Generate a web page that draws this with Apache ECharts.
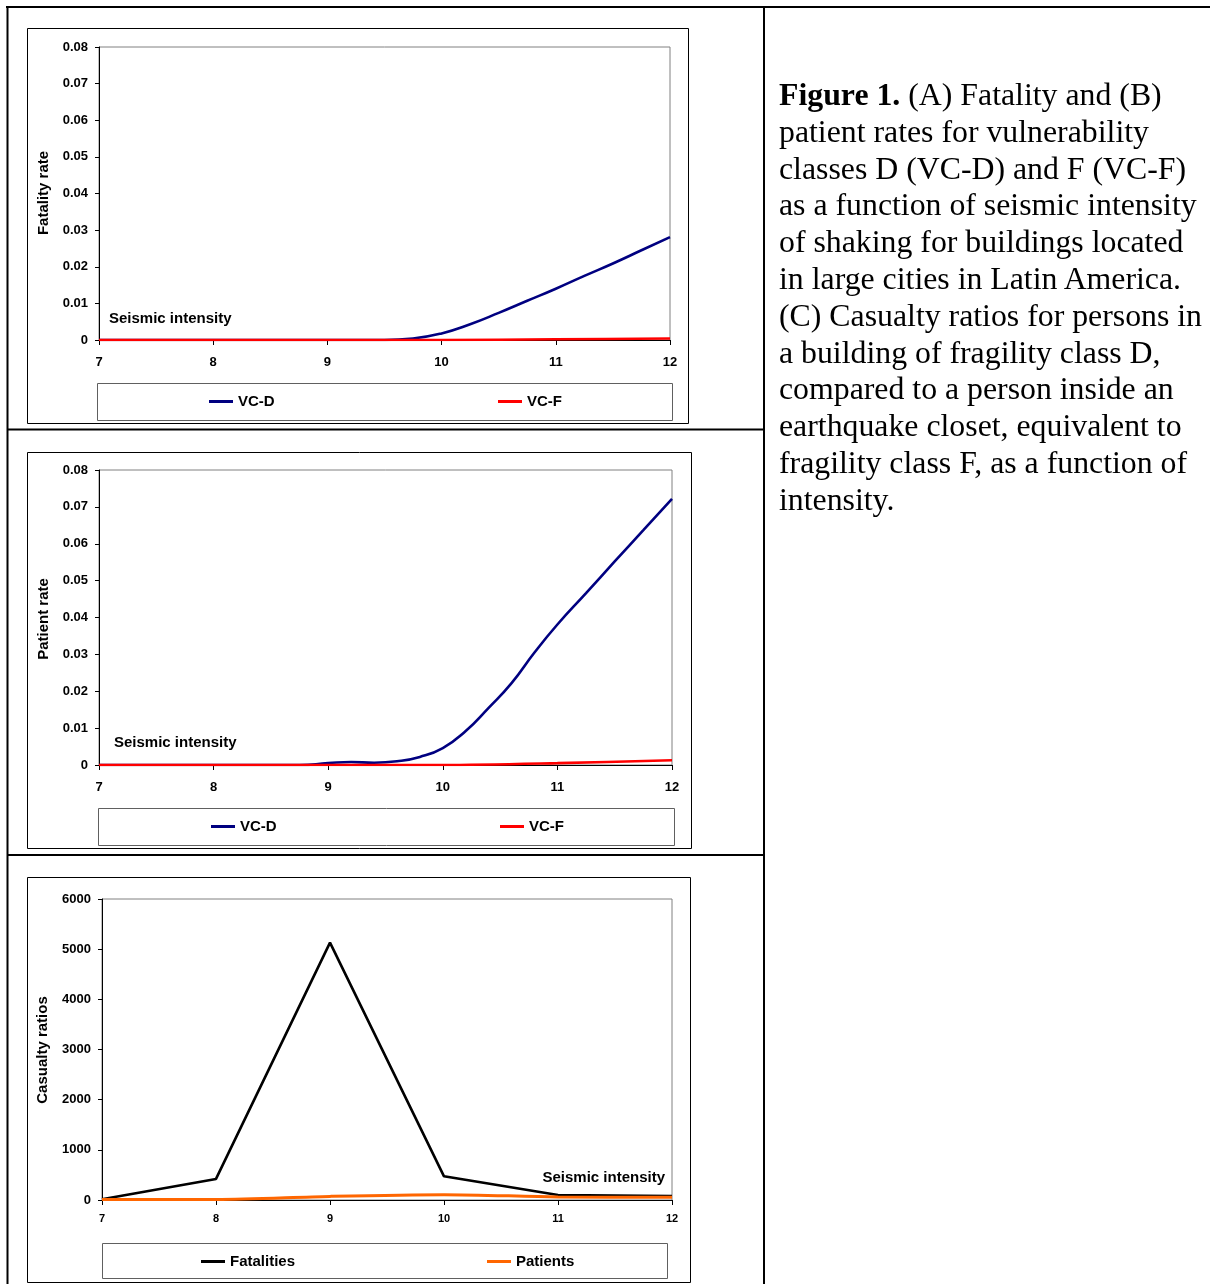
<!DOCTYPE html>
<html>
<head>
<meta charset="utf-8">
<script src="https://cdn.jsdelivr.net/npm/echarts@6/dist/echarts.min.js"></script>
<style>
  html, body { margin: 0; padding: 0; background: #fff; }
  #chart { position: absolute; left: 0; top: 0; width: 1210px; height: 1284px; }
  #caption {
    position: absolute; left: 779px; top: 77px;
    font-family: 'Liberation Serif', 'Times New Roman', serif;
    font-size: 31.8px; line-height: 36.8px; color: #000; white-space: nowrap;
  }
</style>
</head>
<body>
<div id="chart"></div>
<div id="caption"><b>Figure 1.</b> (A) Fatality and (B)<br>patient rates for vulnerability<br>classes D (VC-D) and F (VC-F)<br>as a function of seismic intensity<br>of shaking for buildings located<br>in large cities in Latin America.<br>(C) Casualty ratios for persons in<br>a building of fragility class D,<br>compared to a person inside an<br>earthquake closet, equivalent to<br>fragility class F, as a function of<br>intensity.</div>
<script>
// ---------- data ----------
// Panel A: fatality rate
const aVCD_x = [7, 7.5, 8, 8.5, 9, 9.25, 9.5, 9.75, 10, 10.25, 10.5, 10.75, 11, 11.25, 11.5, 11.75, 12];
const aVCD_y = [0, 0, 0, 0, 0, 0, 0, 0.0004, 0.0018, 0.0043, 0.0074, 0.0107, 0.0140, 0.0175, 0.0209, 0.0245, 0.0281];
const aVCF_x = [7, 8, 9, 10, 11, 12];
const aVCF_y = [0, 0, 0, 0, 0.0002, 0.0004];
// Panel B: patient rate
const bVCD_x = [7, 7.5, 8, 8.5, 8.75, 9, 9.2, 9.4, 9.6, 9.8, 10, 10.2, 10.4, 10.6, 10.8, 11, 11.25, 11.5, 11.75, 12];
const bVCD_y = [0, 0, 0, 0, 0, 0.0005, 0.0008, 0.0006, 0.0010, 0.0022, 0.0046, 0.0092, 0.0155, 0.0222, 0.0305, 0.0381, 0.0466, 0.0552, 0.0637, 0.0722];
const bVCF_x = [7, 8, 9, 10, 11, 12];
const bVCF_y = [0, 0, 0, 0, 0.0005, 0.0013];
// Panel C: casualty ratios
const cIntensity = [7, 8, 9, 10, 11, 12];
const cFatalities = [15, 420, 5130, 472, 98, 78];
const cPatients = [8, 10, 72, 106, 62, 55];
// axis settings
const rateMax = 0.08, rateStep = 0.01;
const ratioMax = 6000, ratioStep = 1000;
const xMin = 7, xMax = 12, xStep = 1;

const pairs = (xs, ys) => xs.map((x, i) => [x, ys[i]]);

const FONT = "'Liberation Sans', Arial, sans-serif";
const lab = (size, extra) => Object.assign({ color: '#000', fontFamily: FONT, fontWeight: 'bold', fontSize: size }, extra || {});

const grids = [
  { left: 99, top: 47, width: 571, height: 293, show: true, borderColor: '#808080', borderWidth: 1 },
  { left: 99, top: 470, width: 573, height: 295, show: true, borderColor: '#808080', borderWidth: 1 },
  { left: 102, top: 899, width: 570, height: 301, show: true, borderColor: '#808080', borderWidth: 1 }
];

function xAx(gi, size, margin) {
  return {
    type: 'value', gridIndex: gi, min: xMin, max: xMax, interval: xStep,
    axisLine: { show: true, onZero: false, lineStyle: { color: '#000', width: 1 } },
    axisTick: { show: true, inside: false, length: 5, lineStyle: { color: '#000' } },
    axisLabel: lab(size, { margin: margin }),
    splitLine: { show: false }
  };
}
function yAx(gi, max, step) {
  return {
    type: 'value', gridIndex: gi, min: 0, max: max, interval: step,
    axisLine: { show: true, lineStyle: { color: '#000', width: 1 } },
    axisTick: { show: true, inside: false, length: 4, lineStyle: { color: '#000' } },
    axisLabel: lab(13, { margin: 11, formatter: v => String(+v.toFixed(4)) }),
    splitLine: { show: false }
  };
}

const NAVY = '#000080', RED = '#FF0000', BLACK = '#000000', ORANGE = '#FF6600';

function legendAt(name, left, top) {
  return {
    data: [name], left: left, top: top, padding: 0, orient: 'horizontal',
    icon: 'rect', itemWidth: 24, itemHeight: 3, selectedMode: false,
    textStyle: lab(15)
  };
}

function box(x, y, w, h, color) {
  return { type: 'rect', shape: { x: x + 0.5, y: y + 0.5, width: w, height: h },
           style: { fill: 'none', stroke: color, lineWidth: 1 }, silent: true, z: -1 };
}
function line(x1, y1, x2, y2, w) {
  return { type: 'line', shape: { x1: x1, y1: y1, x2: x2, y2: y2 },
           style: { stroke: '#000', lineWidth: w }, silent: true, z: -1 };
}
function txt(text, x, y, align, rot) {
  return { type: 'text', x: x, y: y, rotation: rot || 0,
           style: { text: text, fill: '#000', font: "bold 15px " + FONT, align: align, verticalAlign: 'middle' },
           silent: true };
}

const option = {
  animation: false,
  backgroundColor: '#fff',
  grid: grids,
  xAxis: [xAx(0, 13, 16), xAx(1, 13, 16), xAx(2, 11, 13)],
  yAxis: [yAx(0, rateMax, rateStep), yAx(1, rateMax, rateStep), yAx(2, ratioMax, ratioStep)],
  legend: [
    legendAt('VC-D', 209, 394),
    legendAt('VC-F', 498, 394),
    legendAt('VC-D ', 211, 819),
    legendAt('VC-F ', 500, 819),
    legendAt('Fatalities', 201, 1254),
    legendAt('Patients', 487, 1254)
  ],
  series: [
    { name: 'VC-D', type: 'line', xAxisIndex: 0, yAxisIndex: 0, data: pairs(aVCD_x, aVCD_y),
      showSymbol: false, smooth: 0.5, clip: true, lineStyle: { color: NAVY, width: 2.6 }, itemStyle: { color: NAVY } },
    { name: 'VC-F', type: 'line', xAxisIndex: 0, yAxisIndex: 0, data: pairs(aVCF_x, aVCF_y),
      showSymbol: false, smooth: 0.3, lineStyle: { color: RED, width: 2.6 }, itemStyle: { color: RED } },
    { name: 'VC-D ', type: 'line', xAxisIndex: 1, yAxisIndex: 1, data: pairs(bVCD_x, bVCD_y),
      showSymbol: false, smooth: 0.5, clip: true, lineStyle: { color: NAVY, width: 2.6 }, itemStyle: { color: NAVY } },
    { name: 'VC-F ', type: 'line', xAxisIndex: 1, yAxisIndex: 1, data: pairs(bVCF_x, bVCF_y),
      showSymbol: false, smooth: 0.3, lineStyle: { color: RED, width: 2.6 }, itemStyle: { color: RED } },
    { name: 'Fatalities', type: 'line', xAxisIndex: 2, yAxisIndex: 2, data: pairs(cIntensity, cFatalities),
      showSymbol: false, smooth: false, lineStyle: { color: BLACK, width: 2.6 }, itemStyle: { color: BLACK } },
    { name: 'Patients', type: 'line', xAxisIndex: 2, yAxisIndex: 2, data: pairs(cIntensity, cPatients),
      showSymbol: false, smooth: 0.3, lineStyle: { color: ORANGE, width: 3 }, itemStyle: { color: ORANGE } }
  ],
  graphic: [
    // table frame
    line(6, 7, 1210, 7, 2),
    line(7.5, 6, 7.5, 1284, 2),
    line(764, 6, 764, 1284, 2),
    line(7, 429.5, 764, 429.5, 2),
    line(7, 855, 764, 855, 2),
    // chart frames
    box(27, 28, 661, 395, '#000'),
    box(27, 452, 664, 396, '#000'),
    box(27, 877, 663, 405, '#000'),
    // legend frames
    box(97, 383, 575, 37, '#606060'),
    box(98, 808, 576, 37, '#606060'),
    box(102, 1243, 565, 35, '#606060'),
    // axis titles
    txt('Fatality rate', 44, 193, 'center', Math.PI / 2),
    txt('Patient rate', 44, 619, 'center', Math.PI / 2),
    txt('Casualty ratios', 43, 1050, 'center', Math.PI / 2),
    // in-plot labels
    txt('Seismic intensity', 109, 319, 'left'),
    txt('Seismic intensity', 114, 743, 'left'),
    txt('Seismic intensity', 665, 1178, 'right')
  ]
};

const chart = echarts.init(document.getElementById('chart'), null, { renderer: 'canvas' });
chart.setOption(option);
</script>
</body>
</html>
